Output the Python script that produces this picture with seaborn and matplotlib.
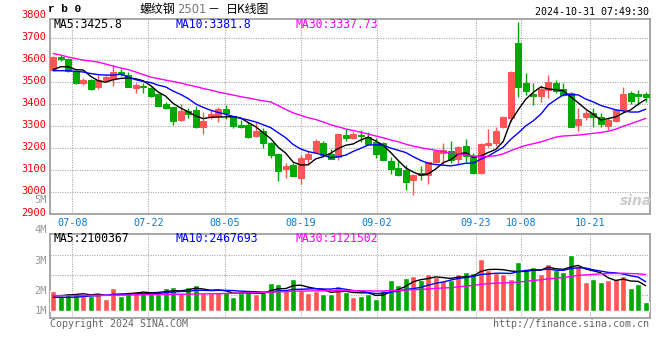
import matplotlib
matplotlib.use("Agg")
import matplotlib.pyplot as plt
import matplotlib.transforms as mtransforms
import numpy as np
import pandas as pd
import seaborn as sns

sns.set_theme(style="white")
plt.rcParams["font.family"] = ["DejaVu Sans Mono", "Noto Sans CJK SC"]

# rb0 日K  2024-07-03 ~ 2024-10-31
open_ = [3556, 3614, 3606, 3553, 3498, 3510, 3479, 3510, 3515, 3547,
         3533, 3474, 3483, 3476, 3447, 3401, 3386, 3329, 3370, 3374,
         3298, 3342, 3347, 3380, 3347, 3306, 3306, 3256, 3281, 3225,
         3174, 3107, 3124, 3066, 3151, 3182, 3225, 3174, 3159, 3262,
         3248, 3262, 3251, 3230, 3225, 3142, 3112, 3101, 3056, 3089,
         3079, 3136, 3180, 3188, 3151, 3210, 3162, 3086, 3215, 3223,
         3298, 3336, 3677, 3498, 3447, 3438, 3465, 3498, 3470, 3450,
         3306, 3344, 3359, 3341, 3303, 3325, 3374, 3450, 3447, 3445]
high = [3619, 3624, 3609, 3556, 3521, 3515, 3533, 3533, 3579, 3559,
        3548, 3495, 3498, 3480, 3453, 3410, 3389, 3401, 3382, 3392,
        3365, 3379, 3386, 3397, 3349, 3329, 3321, 3321, 3291, 3229,
        3180, 3135, 3135, 3170, 3188, 3241, 3235, 3195, 3268, 3286,
        3274, 3283, 3274, 3245, 3227, 3162, 3144, 3124, 3082, 3120,
        3139, 3192, 3223, 3235, 3212, 3241, 3179, 3224, 3286, 3298,
        3347, 3550, 3775, 3544, 3495, 3488, 3533, 3510, 3498, 3455,
        3382, 3374, 3382, 3359, 3344, 3377, 3480, 3460, 3465, 3456]
low = [3553, 3598, 3545, 3492, 3488, 3465, 3468, 3503, 3483, 3529,
       3479, 3451, 3450, 3433, 3392, 3379, 3306, 3324, 3339, 3291,
       3265, 3333, 3321, 3332, 3294, 3291, 3248, 3250, 3200, 3157,
       3051, 3066, 3072, 3036, 3127, 3177, 3166, 3150, 3147, 3235,
       3242, 3227, 3218, 3157, 3145, 3083, 3075, 3010, 2988, 3056,
       3038, 3132, 3124, 3132, 3124, 3139, 3083, 3083, 3207, 3210,
       3291, 3321, 3432, 3442, 3397, 3412, 3427, 3453, 3438, 3296,
       3279, 3329, 3298, 3298, 3283, 3321, 3371, 3400, 3397, 3412]
close = [3616, 3608, 3553, 3495, 3510, 3468, 3510, 3523, 3548, 3540,
         3480, 3490, 3477, 3440, 3394, 3385, 3325, 3370, 3356, 3298,
         3325, 3356, 3377, 3359, 3301, 3297, 3253, 3279, 3223, 3170,
         3098, 3120, 3074, 3157, 3174, 3235, 3170, 3153, 3265, 3248,
         3266, 3257, 3220, 3174, 3147, 3105, 3079, 3048, 3079, 3079,
         3136, 3188, 3192, 3147, 3207, 3165, 3086, 3220, 3225, 3280,
         3344, 3548, 3480, 3462, 3438, 3468, 3503, 3460, 3442, 3298,
         3332, 3359, 3344, 3310, 3329, 3374, 3447, 3415, 3439, 3435]

ma5 = [3558, 3571, 3571, 3558, 3556, 3527, 3507, 3501, 3512, 3518,
       3520, 3516, 3507, 3485, 3456, 3437, 3404, 3383, 3366, 3347,
       3335, 3341, 3342, 3343, 3344, 3338, 3317, 3298, 3271, 3244,
       3205, 3178, 3137, 3124, 3125, 3152, 3162, 3178, 3199, 3214,
       3220, 3238, 3251, 3233, 3213, 3181, 3145, 3111, 3092, 3078,
       3084, 3106, 3135, 3148, 3174, 3180, 3159, 3165, 3181, 3195,
       3231, 3323, 3375, 3423, 3454, 3479, 3470, 3466, 3462, 3434,
       3407, 3378, 3355, 3329, 3335, 3343, 3361, 3375, 3401, 3422]
ma10 = [3553, 3553, 3553, 3550, 3547, 3540, 3535, 3533, 3533, 3537,
        3524, 3512, 3504, 3499, 3487, 3479, 3460, 3445, 3426, 3402,
        3386, 3373, 3363, 3355, 3345, 3336, 3329, 3320, 3307, 3294,
        3271, 3248, 3217, 3197, 3185, 3178, 3170, 3157, 3162, 3169,
        3186, 3200, 3215, 3216, 3214, 3201, 3191, 3181, 3162, 3145,
        3132, 3126, 3123, 3120, 3126, 3132, 3133, 3150, 3165, 3185,
        3205, 3241, 3270, 3302, 3325, 3355, 3397, 3421, 3443, 3444,
        3443, 3424, 3411, 3395, 3385, 3375, 3370, 3365, 3365, 3378]
ma30 = [3631, 3624, 3615, 3608, 3601, 3597, 3592, 3583, 3574, 3565,
        3558, 3547, 3535, 3524, 3517, 3510, 3504, 3497, 3488, 3481,
        3472, 3465, 3456, 3449, 3442, 3435, 3429, 3422, 3416, 3411,
        3394, 3377, 3361, 3350, 3339, 3331, 3320, 3307, 3298, 3288,
        3281, 3273, 3265, 3256, 3248, 3238, 3230, 3219, 3210, 3203,
        3197, 3191, 3185, 3178, 3175, 3170, 3165, 3163, 3163, 3166,
        3175, 3189, 3202, 3213, 3221, 3229, 3240, 3251, 3256, 3258,
        3260, 3264, 3268, 3272, 3278, 3287, 3300, 3312, 3324, 3336]

# 成交量 (百万)
vol = [1.69, 1.27, 1.53, 1.53, 1.27, 1.27, 1.53, 1.02, 1.95, 1.27,
       1.61, 1.69, 1.50, 1.61, 1.44, 1.95, 2.03, 1.50, 2.03, 2.20,
       1.53, 1.53, 1.64, 1.64, 1.21, 1.53, 1.69, 1.44, 1.61, 2.37,
       2.29, 1.78, 2.71, 1.78, 1.53, 1.69, 1.44, 1.44, 2.12, 1.64,
       1.21, 1.30, 1.44, 1.02, 1.78, 2.63, 2.20, 2.82, 2.97, 2.63,
       3.14, 2.88, 2.54, 2.63, 3.14, 3.31, 3.22, 4.43, 3.47, 3.22,
       3.14, 2.71, 4.15, 3.58, 3.73, 3.14, 3.98, 3.47, 3.31, 4.75,
       3.81, 2.46, 2.71, 2.46, 2.63, 2.71, 2.97, 1.95, 2.29, 0.76]
vol_ma5 = [1.30, 1.30, 1.35, 1.40, 1.46, 1.37, 1.43, 1.32, 1.41, 1.41,
           1.48, 1.51, 1.60, 1.54, 1.57, 1.64, 1.71, 1.71, 1.79, 1.94,
           1.86, 1.76, 1.79, 1.71, 1.51, 1.51, 1.54, 1.50, 1.50, 1.73,
           1.88, 1.90, 2.15, 2.19, 2.02, 1.90, 1.83, 1.58, 1.64, 1.67,
           1.57, 1.54, 1.54, 1.32, 1.35, 1.63, 1.81, 2.09, 2.48, 2.65,
           2.75, 2.89, 2.83, 2.76, 2.87, 2.90, 2.97, 3.35, 3.51, 3.53,
           3.50, 3.39, 3.34, 3.36, 3.46, 3.46, 3.72, 3.58, 3.53, 3.73,
           3.86, 3.56, 3.41, 3.24, 2.81, 2.59, 2.70, 2.54, 2.51, 2.14]
vol_ma10 = [1.16, 1.16, 1.16, 1.18, 1.22, 1.27, 1.30, 1.33, 1.38, 1.43,
            1.43, 1.47, 1.46, 1.47, 1.49, 1.56, 1.61, 1.66, 1.66, 1.76,
            1.75, 1.73, 1.75, 1.75, 1.73, 1.68, 1.65, 1.64, 1.60, 1.62,
            1.70, 1.72, 1.83, 1.84, 1.87, 1.89, 1.86, 1.86, 1.92, 1.84,
            1.73, 1.69, 1.56, 1.48, 1.51, 1.60, 1.68, 1.82, 1.90, 2.00,
            2.19, 2.35, 2.46, 2.62, 2.76, 2.83, 2.93, 3.09, 3.14, 3.20,
            3.20, 3.18, 3.34, 3.44, 3.50, 3.48, 3.56, 3.46, 3.44, 3.60,
            3.66, 3.64, 3.49, 3.38, 3.27, 3.23, 3.13, 2.98, 2.87, 2.48]
vol_ma30 = [1.30, 1.30, 1.31, 1.31, 1.32, 1.32, 1.33, 1.33, 1.34, 1.34,
            1.35, 1.36, 1.37, 1.38, 1.39, 1.40, 1.41, 1.42, 1.43, 1.44,
            1.45, 1.46, 1.47, 1.48, 1.50, 1.52, 1.54, 1.56, 1.58, 1.60,
            1.62, 1.64, 1.68, 1.69, 1.70, 1.71, 1.71, 1.72, 1.73, 1.74,
            1.73, 1.71, 1.71, 1.69, 1.70, 1.73, 1.73, 1.77, 1.81, 1.82,
            1.87, 1.92, 1.95, 1.98, 2.05, 2.11, 2.16, 2.26, 2.32, 2.35,
            2.38, 2.41, 2.45, 2.51, 2.59, 2.64, 2.72, 2.79, 2.83, 2.93,
            3.02, 3.06, 3.10, 3.15, 3.18, 3.18, 3.20, 3.17, 3.15, 3.09]

tick_idx = [3, 13, 23, 33, 43, 56, 62, 71]
tick_labels = ["07-08", "07-22", "08-05", "08-19", "09-02", "09-23", "10-08", "10-21"]
price_ticks = [2900, 3000, 3100, 3200, 3300, 3400, 3500, 3600, 3700, 3800]

RED = "#ff5555"
GREEN = "#00a800"
BLUE_TXT = "#0a7ad8"
GRID = "#a8a8a8"
FRAME = "#a0a0a0"

df = pd.DataFrame({"i": np.arange(len(close)), "open": open_, "high": high,
                   "low": low, "close": close, "ma5": ma5, "ma10": ma10,
                   "ma30": ma30, "vol": vol, "vma5": vol_ma5,
                   "vma10": vol_ma10, "vma30": vol_ma30})
df["up"] = df["close"] >= df["open"]
df["color"] = np.where(df["up"], RED, GREEN)

W, H = 660, 360
fig = plt.figure(figsize=(W / 100, H / 100), dpi=100)
ax = fig.add_axes([50 / W, 1 - 214.3 / H, 600 / W, 195.3 / H])
axv = fig.add_axes([50 / W, 1 - 318.3 / H, 600 / W, 84 / H])

# sina 的日期网格线和K线步长略有偏差
grid_x = [(d - 0.5) * 1.015 for d in tick_idx]
dot = (0, (1, 1.2))

# K线
ax.vlines(df["i"], df["low"], df["high"], colors=df["color"], lw=1, zorder=3)
body_lo = df[["open", "close"]].min(axis=1)
body_h = (df["close"] - df["open"]).abs()
ax.bar(df["i"], body_h, bottom=body_lo, width=0.8, color=df["color"],
       edgecolor=df["color"], linewidth=0.7, zorder=4)

for col, c in [("ma5", "black"), ("ma10", "#0000ff"), ("ma30", "#ff00ff")]:
    sns.lineplot(data=df, x="i", y=col, color=c, lw=1, errorbar=None, ax=ax, zorder=5)

# 成交量
sns.barplot(data=df, x="i", y="vol", hue="up", palette={True: RED, False: GREEN},
            native_scale=True, dodge=False, width=0.8, errorbar=None,
            saturation=1, legend=False, ax=axv, zorder=3)
for col, c in [("vma5", "black"), ("vma10", "#0000ff"), ("vma30", "#ff00ff")]:
    sns.lineplot(data=df, x="i", y=col, color=c, lw=1, errorbar=None, ax=axv, zorder=5)

for a in (ax, axv):
    a.set_xlim(-0.43, 79.57)
    a.set_xlabel("")
    a.set_ylabel("")
    a.set_facecolor("white")
    for s in a.spines.values():
        s.set_color(FRAME)
        s.set_linewidth(1.3)
    a.set_xticks(grid_x)
    a.tick_params(length=0)
    a.grid(True, color=GRID, lw=0.8, linestyle=dot)
    a.set_axisbelow(True)

ax.set_ylim(2900, 3788)
ax.set_yticks(price_ticks[1:-1])
ax.set_yticklabels([])
ax.set_xticklabels(tick_labels, color=BLUE_TXT, fontsize=7.3)
ax.tick_params(axis="x", pad=2.5)

vlo, vhi = -0.62, 6.5
axv.set_ylim(vlo, vhi)
axv.set_yticks([vlo + f * (vhi - vlo) for f in (0.274, 0.512, 0.75)])
axv.set_yticklabels([])
axv.set_xticklabels([])

# 价格刻度
tr = mtransforms.blended_transform_factory(ax.transAxes, ax.transData)
for p in price_ticks:
    ax.text(-0.006, p + 8, str(p), transform=tr, ha="right", va="center",
            color="#ff0000", fontsize=7.5, clip_on=False)

def px(x, y, s, **kw):
    fig.text(x / W, 1 - y / H, s, **kw)

px(47, 200, "5M", ha="right", va="center", color="#999999", fontsize=7.5)
for y, s in zip([230, 260.5, 290.5, 311], ["4M", "3M", "2M", "1M"]):
    px(47, y, s, ha="right", va="center", color="#999999", fontsize=7.5)

# MA 数值
for y, labs in [(24, ["MA5:3425.8", "MA10:3381.8", "MA30:3337.73"]),
                (239, ["MA5:2100367", "MA10:2467693", "MA30:3121502"])]:
    for x, s, c in zip([53, 175, 295], labs, ["black", "#0000ff", "#ff00ff"]):
        px(x, y, s, ha="left", va="center", color=c, fontsize=8.3)

# 标题
px(48, 9.5, "r b 0", ha="left", va="center", fontsize=8, fontweight="bold",
   family="Liberation Mono", color="black")
px(140, 9.5, "螺纹钢", ha="left", va="center", fontsize=8.6,
   family="Noto Sans CJK SC", color="black")
px(177, 9.8, "2501", ha="left", va="center", fontsize=8.3,
   family="DejaVu Sans", color="#777777")
px(207, 9.5, "－", ha="left", va="center", fontsize=8.6,
   family="Noto Sans CJK SC", color="black")
px(226, 9.5, "日K线图", ha="left", va="center", fontsize=8.6,
   family="Noto Sans CJK SC", color="black")
px(649, 11.7, "2024-10-31 07:49:30", ha="right", va="center", fontsize=7.2,
   color="black")

px(50, 324, "Copyright 2024 SINA.COM", ha="left", va="center", fontsize=7.2,
   color="#666666")
px(649, 324, "http://finance.sina.com.cn", ha="right", va="center",
   fontsize=7.2, color="#666666")
px(636, 201, "sina", ha="center", va="center", fontsize=10, style="italic",
   fontweight="bold", family="DejaVu Sans", color="#cccccc")

fig.savefig("out.png", dpi=100, facecolor="white")
